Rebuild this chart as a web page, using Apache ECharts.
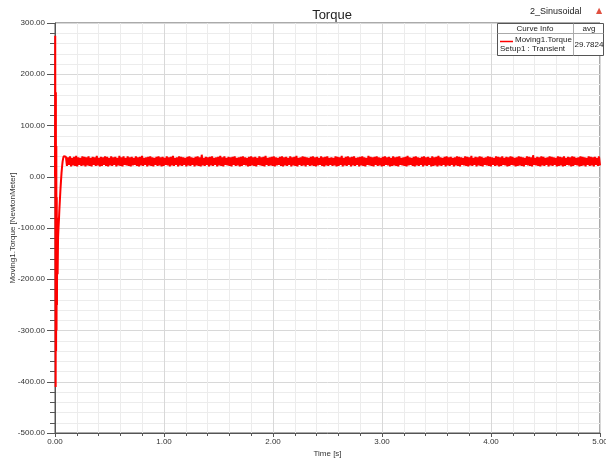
<!DOCTYPE html>
<html>
<head>
<meta charset="utf-8">
<script src="https://cdn.jsdelivr.net/npm/echarts@6/dist/echarts.min.js"></script>
<style>
  html, body { margin: 0; padding: 0; background: #fff; }
  #chart { width: 606px; height: 462px; }
</style>
</head>
<body>
<div id="chart"></div>
<script>
// start-up transient (time in s, torque in NewtonMeter)
const transientT = [0, 0.002, 0.004, 0.006, 0.008, 0.010, 0.012, 0.014, 0.016, 0.018, 0.020, 0.024,
  0.028, 0.032, 0.036, 0.040, 0.045, 0.050, 0.055, 0.060, 0.065, 0.070, 0.075, 0.080, 0.085, 0.090];
const transientV = [0, 275, -120, -410, 165, -340, 60, -300, -40, -250, -80, -190,
  -120, -100, -85, -65, -45, -25, -8, 8, 20, 30, 36, 40, 42, 39];

// steady-state ripple, sampled evenly from steadyStart to steadyEnd
const steadyStart = 0.1;
const steadyEnd = 5.0;
const steadyV = [
  39,21,38,23,40,20,37,22,39,21,41,20,38,23,37,21,40,22,39,20,
  38,22,40,21,37,20,39,23,38,21,41,22,37,20,39,21,38,23,40,21,
  39,20,37,22,40,21,38,23,39,20,37,22,41,21,38,20,40,23,37,22,
  40,21,38,20,39,22,37,23,40,21,38,20,39,22,41,21,37,23,38,20,
  39,22,40,21,38,20,37,23,39,21,40,22,38,20,39,21,37,23,40,22,
  38,20,39,22,41,21,37,23,38,20,40,22,39,21,38,23,37,20,39,22,
  40,21,38,23,37,20,39,22,40,21,38,20,43,22,37,21,39,23,38,20,
  39,22,40,21,37,23,38,20,39,22,41,21,38,20,40,23,37,22,39,21,
  38,20,39,23,40,21,37,22,38,20,39,21,40,23,38,22,37,20,39,21,
  40,22,38,21,39,20,37,23,40,22,38,21,39,20,41,23,37,21,38,22,
  39,21,40,20,38,22,37,23,39,21,40,20,38,22,39,21,37,23,40,20,
  38,22,39,21,41,20,37,23,38,21,40,22,39,20,38,23,37,21,39,22,
  40,21,38,20,39,22,37,23,40,21,38,20,39,22,40,21,37,23,38,21,
  37,22,40,20,39,21,38,23,41,20,37,22,39,21,40,23,38,20,39,22,
  40,21,37,23,38,20,39,22,40,21,38,20,37,23,41,22,39,21,38,20,
  39,23,40,21,38,22,37,20,39,21,40,23,38,22,39,20,37,21,40,22,
  38,21,39,20,40,23,37,22,38,21,39,20,41,22,38,23,37,21,39,20,
  40,22,38,21,37,23,39,20,40,22,38,21,39,23,37,20,40,21,38,22,
  39,20,41,22,38,21,37,23,39,20,40,22,38,21,39,23,37,20,38,22,
  40,21,39,20,38,23,37,22,40,21,39,20,38,22,41,21,37,23,39,20,
  38,22,40,21,39,20,37,23,38,22,40,21,39,20,38,23,37,21,40,22,
  39,20,38,21,40,23,37,22,39,20,38,21,40,23,39,22,37,20,38,21,
  40,22,39,21,38,20,37,23,40,22,39,21,38,20,42,23,37,22,39,21,
  38,20,40,22,39,21,37,23,38,20,40,22,39,21,38,23,37,20,40,21,
  39,22,38,20,40,21,37,23,39,22,38,20,40,21,39,23,37,22,38,20,
  40,21,39,22,38,20,37,23,40,21,39,22,38,20,39,23,37,21,40,22
];

const curveName = "Moving1.Torque";
const curveSetup = "Setup1 : Transient";
const curveAvg = "29.7824";

const points = transientT.map((t, i) => [t, transientV[i]]);
const step = (steadyEnd - steadyStart) / (steadyV.length - 1);
steadyV.forEach((v, i) => points.push([steadyStart + i * step, v]));

const font = "Liberation Sans, Arial, sans-serif";
const chart = echarts.init(document.getElementById("chart"));

chart.setOption({
  animation: false,
  backgroundColor: "#fff",
  title: {
    text: "Torque",
    left: 327, top: 4, textAlign: "center",
    textStyle: { fontFamily: font, fontSize: 13, fontWeight: "normal", color: "#222" }
  },
  grid: {
    left: 55, right: 6, top: 23, bottom: 29,
    outerBoundsMode: "none", containLabel: false,
    show: true, borderColor: "#555", borderWidth: 1, backgroundColor: "#fff"
  },
  xAxis: {
    type: "value", min: 0, max: 5, interval: 1,
    name: "Time [s]", nameLocation: "middle", nameGap: 17, nameMoveOverlap: false,
    nameTextStyle: { fontFamily: font, fontSize: 8, color: "#333" },
    axisLine: { onZero: false, lineStyle: { color: "#555" } },
    axisTick: { length: 4, lineStyle: { color: "#555" } },
    minorTick: { show: true, splitNumber: 5, length: 3, lineStyle: { color: "#555" } },
    axisLabel: { fontFamily: font, fontSize: 8, color: "#333", margin: 5,
      formatter: v => v.toFixed(2) },
    splitLine: { lineStyle: { color: "#d8d8d8" } },
    minorSplitLine: { show: true, lineStyle: { color: "#ececec" } }
  },
  yAxis: {
    type: "value", min: -500, max: 300, interval: 100,
    name: "Moving1.Torque [NewtonMeter]", nameLocation: "middle", nameGap: 38, nameMoveOverlap: false,
    nameTextStyle: { fontFamily: font, fontSize: 8, color: "#333" },
    axisLine: { show: true, onZero: false, lineStyle: { color: "#555" } },
    axisTick: { show: true, length: 8, lineStyle: { color: "#555" } },
    minorTick: { show: true, splitNumber: 5, length: 5, lineStyle: { color: "#555" } },
    axisLabel: { fontFamily: font, fontSize: 8, color: "#333", margin: 10,
      formatter: v => v.toFixed(2) },
    splitLine: { lineStyle: { color: "#d8d8d8" } },
    minorSplitLine: { show: true, lineStyle: { color: "#ececec" } }
  },
  series: [{
    type: "line",
    name: curveName,
    data: points,
    symbol: "none",
    sampling: null,
    lineStyle: { color: "#ff0000", width: 2 },
    z: 3
  }],
  graphic: [
    { type: "text", x: 530, y: 7, z: 100,
      style: { text: "2_Sinusoidal", fontFamily: font, fontSize: 9, fill: "#222" } },
    { type: "text", x: 596, y: 7, z: 100,
      style: { text: "▲", fontFamily: "DejaVu Sans", fontSize: 8, fill: "#e05040" } },
    { type: "rect", z: 100, shape: { x: 497.5, y: 23.5, width: 106, height: 32 },
      style: { fill: "#fff", stroke: "#555", lineWidth: 1 } },
    { type: "line", z: 101, shape: { x1: 497.5, y1: 33.5, x2: 603.5, y2: 33.5 }, style: { stroke: "#aaa" } },
    { type: "line", z: 101, shape: { x1: 573.5, y1: 23.5, x2: 573.5, y2: 55.5 }, style: { stroke: "#aaa" } },
    { type: "text", x: 535, y: 25, z: 102,
      style: { text: "Curve Info", fontFamily: font, fontSize: 8, fill: "#222", align: "center" } },
    { type: "text", x: 589, y: 25, z: 102,
      style: { text: "avg", fontFamily: font, fontSize: 8, fill: "#222", align: "center" } },
    { type: "line", z: 102, shape: { x1: 500, y1: 41.5, x2: 513, y2: 41.5 }, style: { stroke: "#ff0000", lineWidth: 1.5 } },
    { type: "text", x: 515, y: 36, z: 102,
      style: { text: curveName, fontFamily: font, fontSize: 8, fill: "#222" } },
    { type: "text", x: 500, y: 45, z: 102,
      style: { text: curveSetup, fontFamily: font, fontSize: 8, fill: "#222" } },
    { type: "text", x: 589, y: 41, z: 102,
      style: { text: curveAvg, fontFamily: font, fontSize: 8, fill: "#222", align: "center" } }
  ]
});
</script>
</body>
</html>
